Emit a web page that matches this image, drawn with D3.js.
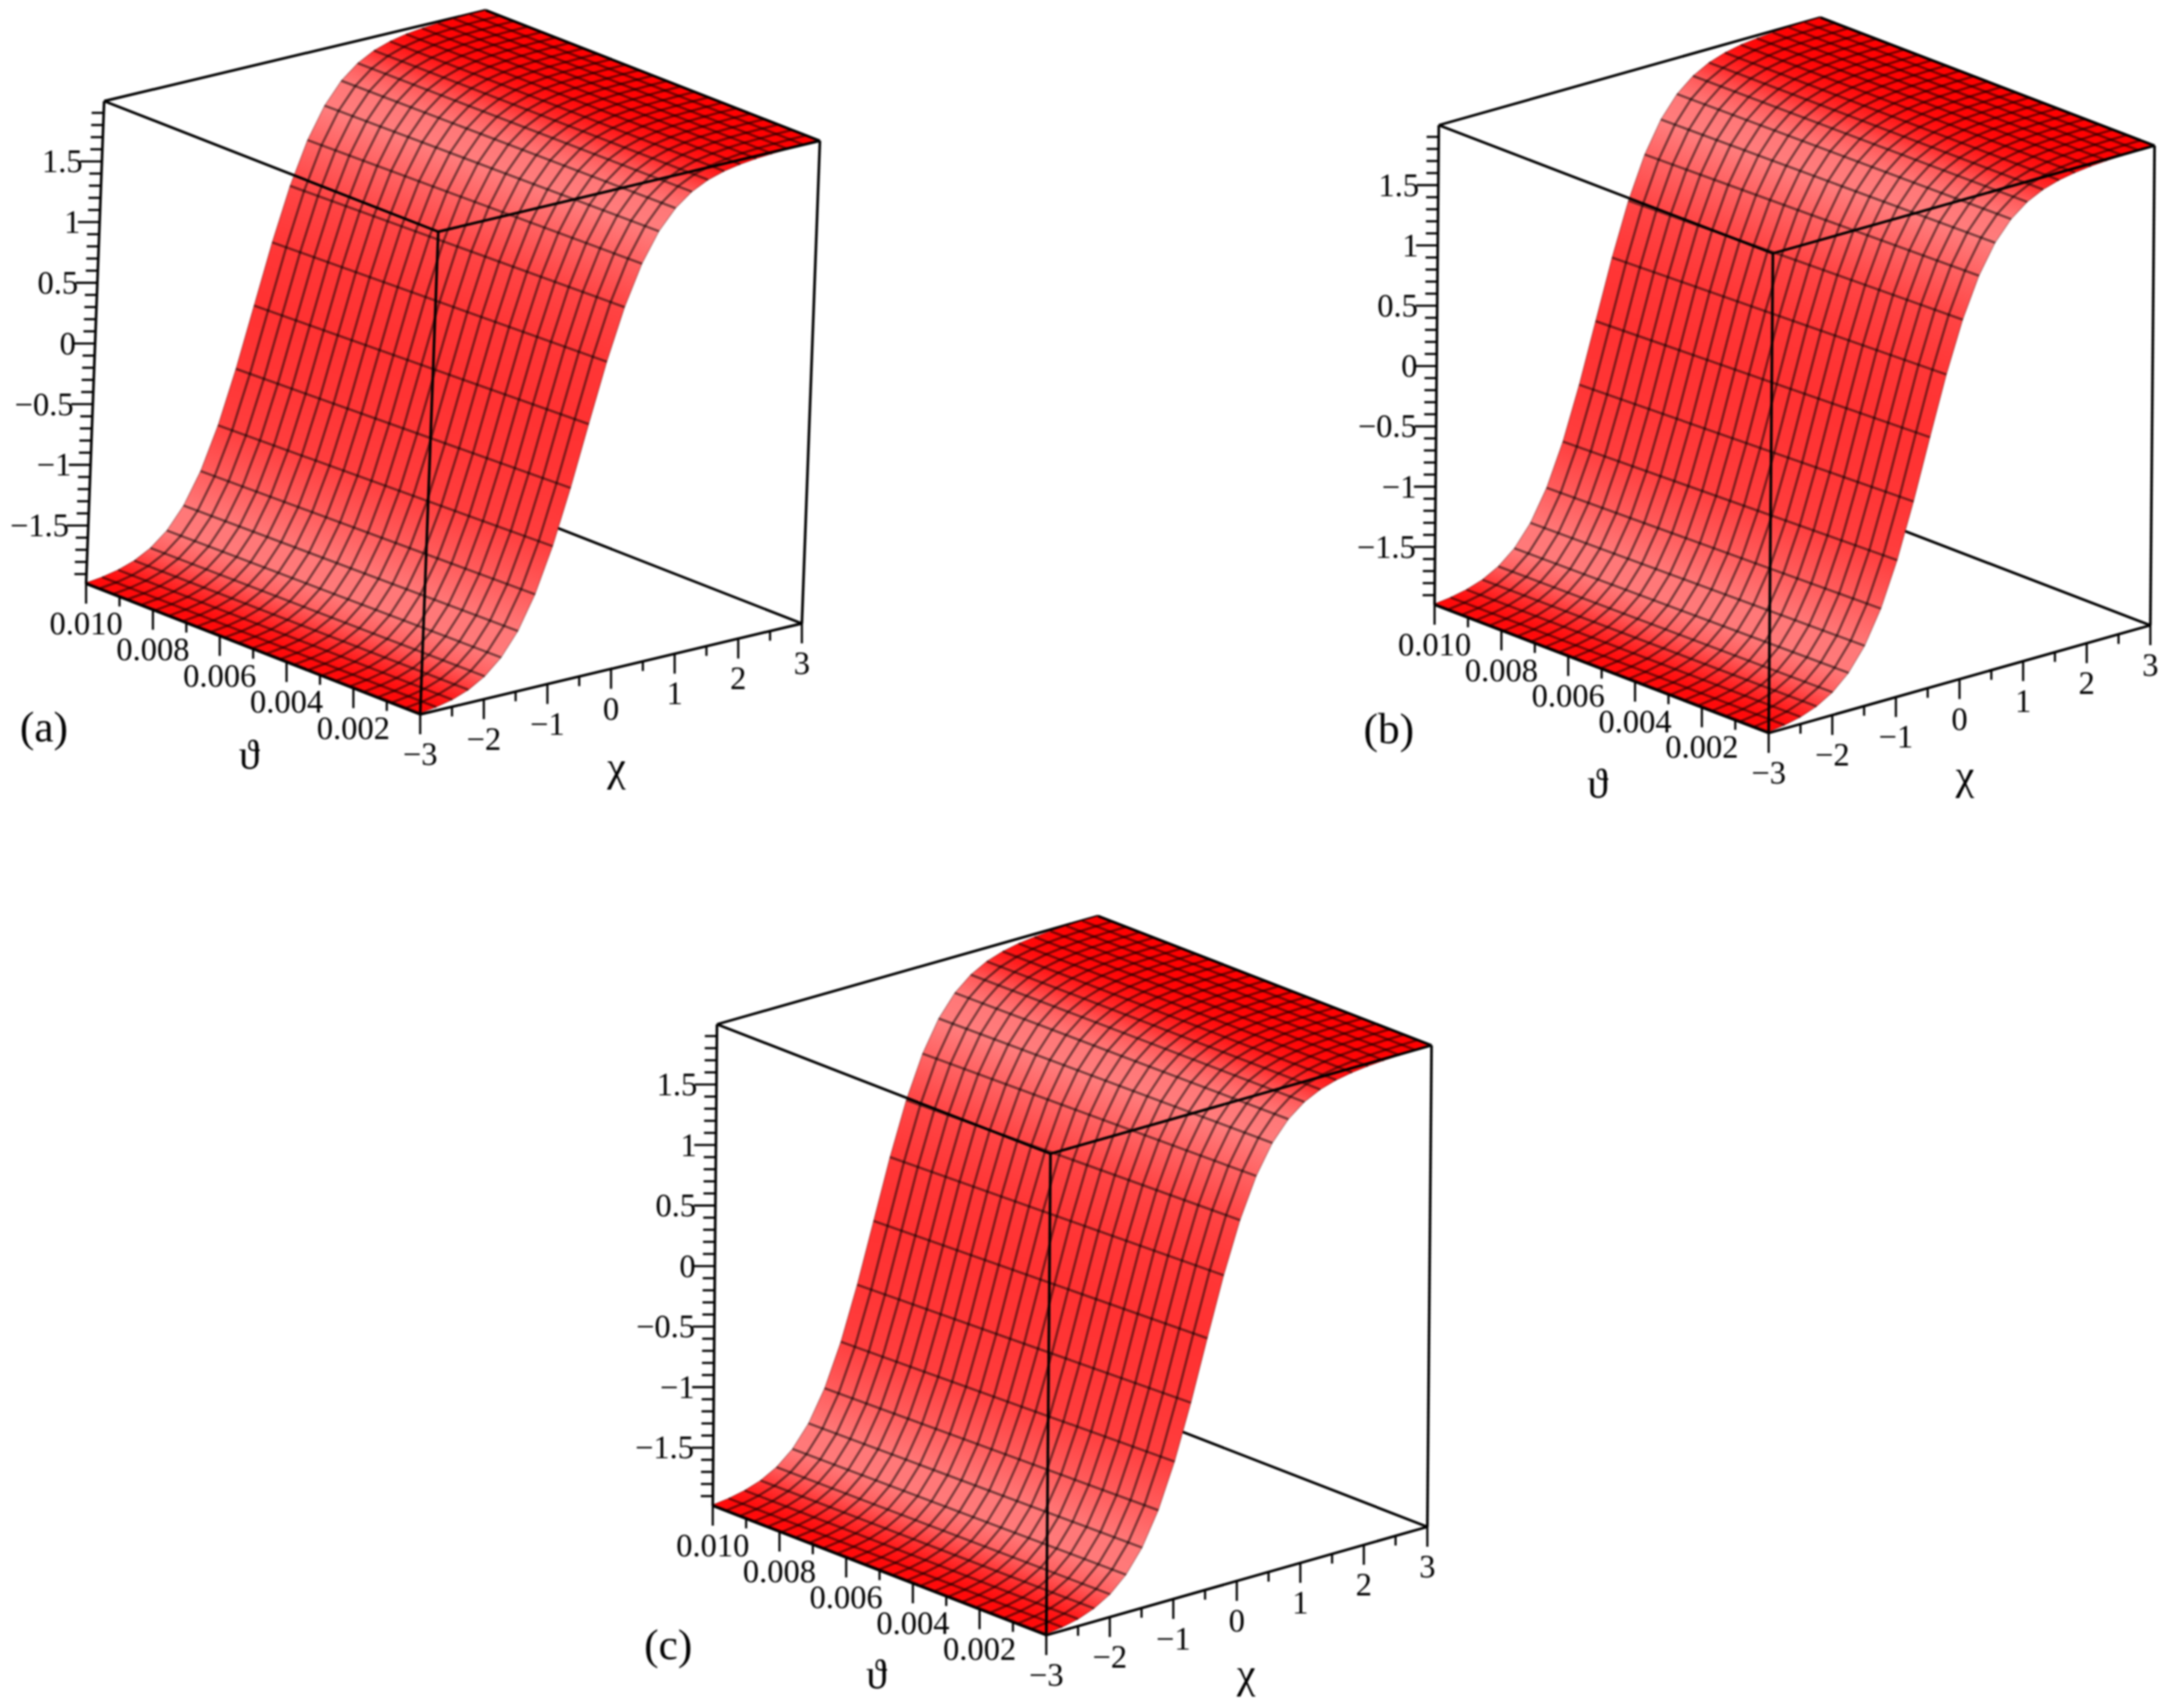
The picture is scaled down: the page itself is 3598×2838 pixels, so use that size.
<!DOCTYPE html>
<html>
<head>
<meta charset="utf-8">
<script src="https://cdn.jsdelivr.net/npm/d3@7"></script>
<style>
  html, body { margin: 0; padding: 0; background: #fff; }
  svg { display: block; filter: blur(1.4px); }
  text { font-family: "Liberation Serif", serif; fill: #000; }
</style>
</head>
<body>
<div id="chart"></div>
<script>
// surface grid (all three panels look the same)
var chiGrid = [-3, -2.75, -2.5, -2.25, -2, -1.75, -1.5, -1.25, -1, -0.75, -0.5, -0.25, 0,
               0.25, 0.5, 0.75, 1, 1.25, 1.5, 1.75, 2, 2.25, 2.5, 2.75, 3];
var thetaGrid = [0, 0.000417, 0.000833, 0.00125, 0.001667, 0.002083, 0.0025, 0.002917, 0.003333,
                 0.00375, 0.004167, 0.004583, 0.005, 0.005417, 0.005833, 0.00625, 0.006667,
                 0.007083, 0.0075, 0.007917, 0.008333, 0.00875, 0.009167, 0.009583, 0.01];
// height along the two side edges of the surface, theta = 0 and theta = 0.01
var edgeZ0 = [-1.97, -1.951, -1.921, -1.871, -1.791, -1.667, -1.48, -1.209, -0.844, -0.395, 0.1,
              0.583, 1.001, 1.328, 1.564, 1.723, 1.828, 1.894, 1.935, 1.96, 1.976, 1.985, 1.991, 1.995, 1.997];
var edgeZ1 = [-1.973, -1.956, -1.928, -1.883, -1.81, -1.697, -1.523, -1.27, -0.924, -0.49, 0,
              0.49, 0.924, 1.27, 1.523, 1.697, 1.81, 1.883, 1.928, 1.956, 1.973, 1.984, 1.99, 1.994, 1.996];

// axes
var chiDomain = [-3, 3];
var thetaDomain = [0, 0.01];
var zDomain = [-1.98, 1.997];
var chiTicks = [-3, -2, -1, 0, 1, 2, 3];
var chiMinor = [-2.5, -1.5, -0.5, 0.5, 1.5, 2.5];
var thetaTicks = [0.002, 0.004, 0.006, 0.008, 0.010];
var thetaMinor = [0.001, 0.003, 0.005, 0.007, 0.009];
var zTicks = [-1.5, -1, -0.5, 0, 0.5, 1, 1.5];
var zMinor = [-1.9, -1.8, -1.7, -1.6, -1.4, -1.3, -1.2, -1.1, -0.9, -0.8, -0.7, -0.6, -0.4, -0.3, -0.2, -0.1,
              0.1, 0.2, 0.3, 0.4, 0.6, 0.7, 0.8, 0.9, 1.1, 1.2, 1.3, 1.4, 1.6, 1.7, 1.8, 1.9];

// view of each panel: screen place of the (chi=-3, theta=0, z=min) corner and the three box edges
var panels = [
  {name: "(a)", corner: [698, 1187], chiVec: [634, -151], thetaVec: [-555, -217], zVec: [30, -802],
   nameAt: [33, 1232], thetaLabelAt: [414, 1277], chiLabelAt: [1024, 1297]},
  {name: "(b)", corner: [2938, 1218], chiVec: [634, -179], thetaVec: [-555, -213], zVec: [7, -797],
   nameAt: [2265, 1235], thetaLabelAt: [2654, 1325], chiLabelAt: [3264, 1311]},
  {name: "(c)", corner: [1738, 2717], chiVec: [633, -180], thetaVec: [-554, -215], zVec: [7, -800],
   nameAt: [1070, 2757], thetaLabelAt: [1456, 2805], chiLabelAt: [2070, 2804]}
];

var width = 3598, height = 2838;
var tickFont = 54, tickMajor = 33, tickMinor = 16, labelDrop = 84;

var svg = d3.select("#chart").append("svg")
  .attr("width", width)
  .attr("height", height);
var defs = svg.append("defs");

var chiPos = d3.scaleLinear().domain(chiDomain).range([0, 1]);
var thetaPos = d3.scaleLinear().domain(thetaDomain).range([0, 1]);
var zPos = d3.scaleLinear().domain(zDomain).range([0, 1]);

// red gets paler with the slope, palest on the shoulders of the step
var shade = d3.scaleLinear()
  .domain([0, 0.1, 0.2, 0.36, 0.56, 0.8, 1.2, 1.6, 2])
  .range([0, 12, 38, 90, 120, 126, 95, 62, 48]);

function surfaceAt(i, theta)
{
  var b = thetaPos(theta);
  return edgeZ0[i] * (1 - b) + edgeZ1[i] * b;
}

function slopeAt(i)
{
  var a = Math.max(i - 1, 0), b = Math.min(i + 1, chiGrid.length - 1);
  return Math.abs((surfaceAt(b, 0.005) - surfaceAt(a, 0.005)) / (chiGrid[b] - chiGrid[a]));
}

function fillAt(i)
{
  var g = Math.round(shade(slopeAt(i)));
  return "rgb(255," + g + "," + g + ")";
}

function fmtTick(d)
{
  return (d < 0 ? "\u2212" : "") + Math.abs(d);
}

panels.forEach(function (p, n) { drawPanel(p, n); });

function drawPanel(p, n)
{
  function project(chi, theta, z)
  {
    var a = chiPos(chi), b = thetaPos(theta), c = zPos(z);
    return [p.corner[0] + a * p.chiVec[0] + b * p.thetaVec[0] + c * p.zVec[0],
            p.corner[1] + a * p.chiVec[1] + b * p.thetaVec[1] + c * p.zVec[1]];
  }

  function node(i, theta)
  {
    return project(chiGrid[i], theta, surfaceAt(i, theta));
  }

  var g = svg.append("g");
  var line = d3.line();
  var chi0 = chiDomain[0], chi1 = chiDomain[1], th0 = thetaDomain[0], th1 = thetaDomain[1],
      z0 = zDomain[0], z1 = zDomain[1];

  function edge(parent, a, b)
  {
    parent.append("path")
      .attr("d", line([a, b]))
      .attr("fill", "none")
      .attr("stroke", "#000")
      .attr("stroke-width", 4.4);
  }

  // box edges that pass behind the surface
  edge(g, project(chi1, th1, z0), project(chi0, th1, z0));
  edge(g, project(chi1, th1, z0), project(chi1, th0, z0));
  edge(g, project(chi1, th1, z0), project(chi1, th1, z1));
  edge(g, project(chi0, th1, z1), project(chi1, th1, z1));

  // surface strips, one gradient per chi step
  var strips = d3.range(chiGrid.length - 1);
  strips.forEach(function (i) {
    var a = node(i, th0), b = node(i + 1, th0), e = node(i, th1);
    var nx = -(e[1] - a[1]), ny = e[0] - a[0], nl = Math.sqrt(nx * nx + ny * ny);
    nx /= nl; ny /= nl;
    var d = (b[0] - a[0]) * nx + (b[1] - a[1]) * ny;
    var grad = defs.append("linearGradient")
      .attr("id", "strip" + n + "_" + i)
      .attr("gradientUnits", "userSpaceOnUse")
      .attr("x1", a[0]).attr("y1", a[1])
      .attr("x2", a[0] + d * nx).attr("y2", a[1] + d * ny);
    grad.append("stop").attr("offset", 0).attr("stop-color", fillAt(i));
    grad.append("stop").attr("offset", 1).attr("stop-color", fillAt(i + 1));
  });

  g.append("g").selectAll("path")
    .data(strips)
    .enter()
    .append("path")
    .attr("d", function (i) {
      return line([node(i, th0), node(i, th1), node(i + 1, th1), node(i + 1, th0)]) + "Z";
    })
    .attr("fill", function (i) { return "url(#strip" + n + "_" + i + ")"; })
    .attr("stroke", function (i) { return "url(#strip" + n + "_" + i + ")"; })
    .attr("stroke-width", 0.6);

  // mesh, the two outer columns only show as a faint rim
  var mesh = g.append("g")
    .attr("fill", "none")
    .attr("stroke", "#000")
    .attr("stroke-width", 3.8);
  mesh.selectAll("path.rows")
    .data(chiGrid)
    .enter()
    .append("path")
    .attr("class", "rows")
    .attr("stroke-opacity", 0.53)
    .attr("d", function (c, i) {
      return line([node(i, th0), node(i, th1)]);
    });
  mesh.selectAll("path.cols")
    .data(thetaGrid)
    .enter()
    .append("path")
    .attr("class", "cols")
    .attr("stroke-opacity", function (t, j) { return j == 0 || j == thetaGrid.length - 1 ? 0.22 : 0.53; })
    .attr("stroke-width", function (t, j) { return j == 0 || j == thetaGrid.length - 1 ? 2 : 3.8; })
    .attr("d", function (t) {
      return line(chiGrid.map(function (c, i) { return node(i, t); }));
    });

  // box edges in front
  edge(g, project(chi0, th1, z1), project(chi0, th0, z1));
  edge(g, project(chi0, th0, z1), project(chi1, th0, z1));
  edge(g, project(chi1, th0, z1), project(chi1, th1, z1));
  edge(g, project(chi0, th0, z1), project(chi0, th0, z0));
  edge(g, project(chi1, th0, z1), project(chi1, th0, z0));
  edge(g, project(chi0, th1, z1), project(chi0, th1, z0));
  edge(g, project(chi0, th1, z0), project(chi0, th0, z0));
  edge(g, project(chi0, th0, z0), project(chi1, th0, z0));

  // ticks hang straight down from the two floor axes
  var ticks = g.append("g").attr("stroke", "#000").attr("stroke-width", 3.6);
  function downTicks(values, toPoint, len)
  {
    ticks.append("g").selectAll("line")
      .data(values)
      .enter()
      .append("line")
      .attr("x1", function (d) { return toPoint(d)[0]; })
      .attr("y1", function (d) { return toPoint(d)[1]; })
      .attr("x2", function (d) { return toPoint(d)[0]; })
      .attr("y2", function (d) { return toPoint(d)[1] + len; });
  }
  function thetaPoint(d) { return project(chi0, d, z0); }
  function chiPoint(d) { return project(d, th0, z0); }
  function zPoint(d) { return project(chi0, th1, d); }

  downTicks(thetaTicks, thetaPoint, tickMajor);
  downTicks(thetaMinor, thetaPoint, tickMinor);
  downTicks(chiTicks, chiPoint, tickMajor);
  downTicks(chiMinor, chiPoint, tickMinor);

  function sideTicks(values, len)
  {
    ticks.append("g").selectAll("line")
      .data(values)
      .enter()
      .append("line")
      .attr("x1", function (d) { return zPoint(d)[0]; })
      .attr("y1", function (d) { return zPoint(d)[1]; })
      .attr("x2", function (d) { return zPoint(d)[0] - len; })
      .attr("y2", function (d) { return zPoint(d)[1]; });
  }
  sideTicks(zTicks, 36);
  sideTicks(zMinor, 20);

  // tick labels
  var labels = g.append("g").attr("font-size", tickFont);
  labels.append("g").selectAll("text")
    .data(thetaTicks)
    .enter()
    .append("text")
    .attr("x", function (d) { return thetaPoint(d)[0]; })
    .attr("y", function (d) { return thetaPoint(d)[1] + labelDrop; })
    .attr("text-anchor", "middle")
    .text(function (d) { return d.toFixed(3); });
  labels.append("g").selectAll("text")
    .data(chiTicks)
    .enter()
    .append("text")
    .attr("x", function (d) { return chiPoint(d)[0]; })
    .attr("y", function (d) { return chiPoint(d)[1] + labelDrop; })
    .attr("text-anchor", "middle")
    .text(fmtTick);
  labels.append("g").selectAll("text")
    .data(zTicks)
    .enter()
    .append("text")
    .attr("x", function (d) { return zPoint(d)[0] - 32; })
    .attr("y", function (d) { return zPoint(d)[1] + 18; })
    .attr("text-anchor", "end")
    .text(fmtTick);

  // axis titles and panel letter
  g.append("text")
    .attr("x", p.thetaLabelAt[0]).attr("y", p.thetaLabelAt[1])
    .attr("text-anchor", "middle")
    .attr("font-size", 70)
    .text("\u03D1");
  g.append("text")
    .attr("x", p.chiLabelAt[0]).attr("y", p.chiLabelAt[1])
    .attr("text-anchor", "middle")
    .attr("font-size", 70)
    .text("\u03C7");
  g.append("text")
    .attr("x", p.nameAt[0]).attr("y", p.nameAt[1])
    .attr("font-size", 72)
    .text(p.name);
}
</script>
</body>
</html>
